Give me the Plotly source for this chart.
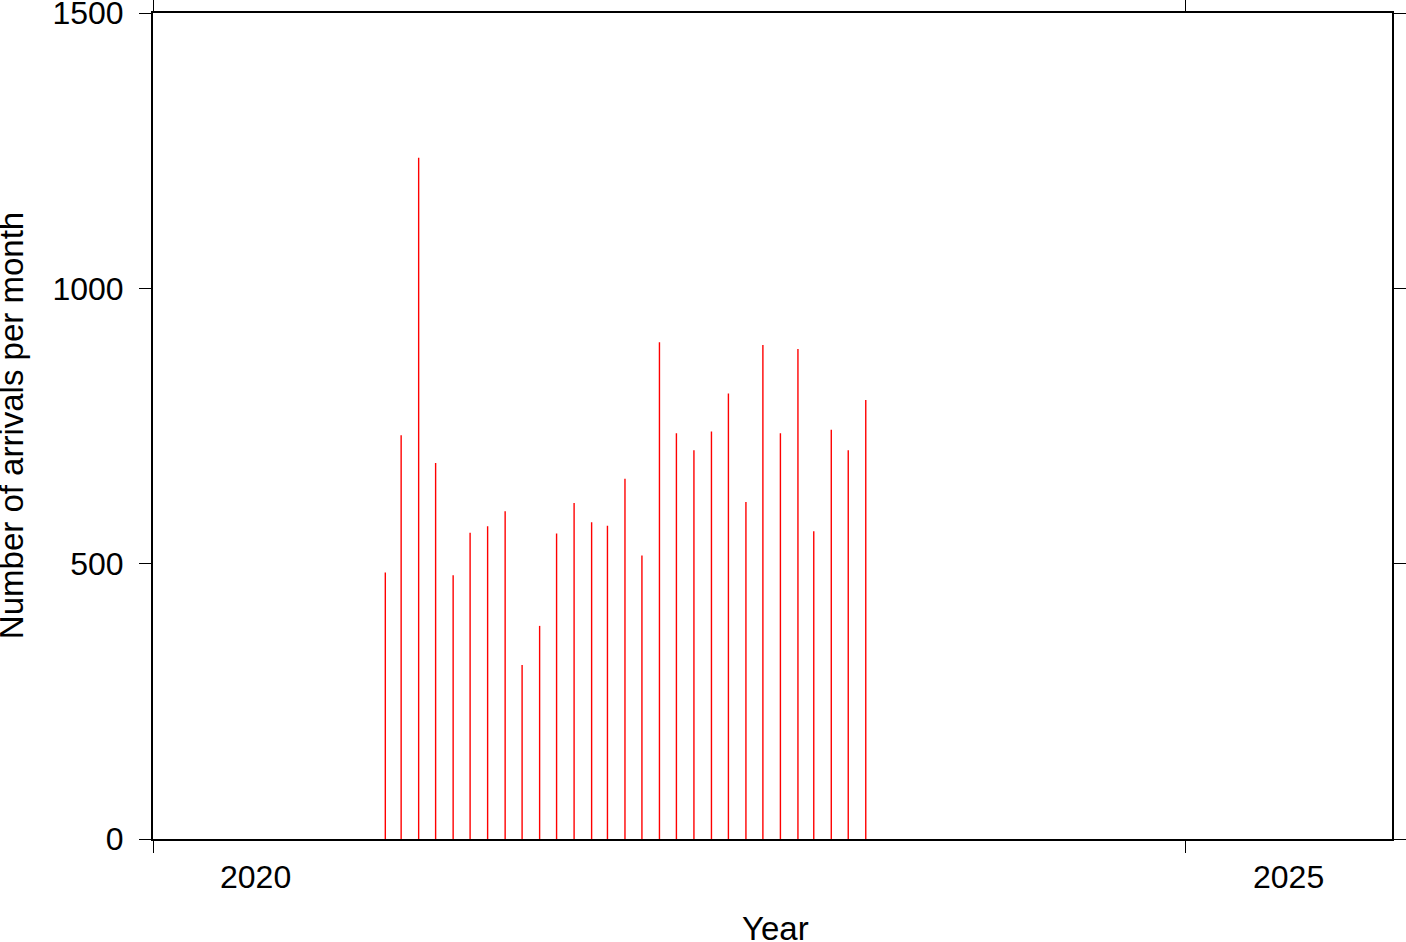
import plotly.graph_objects as go

# Monthly arrivals (mid-month dates)
months = [
    "2021-02-15", "2021-03-15", "2021-04-15", "2021-05-15", "2021-06-15", "2021-07-15",
    "2021-08-15", "2021-09-15", "2021-10-15", "2021-11-15", "2021-12-15", "2022-01-15",
    "2022-02-15", "2022-03-15", "2022-04-15", "2022-05-15", "2022-06-15", "2022-07-15",
    "2022-08-15", "2022-09-15", "2022-10-15", "2022-11-15", "2022-12-15", "2023-01-15",
    "2023-02-15", "2023-03-15", "2023-04-15", "2023-05-15", "2023-06-15",
]
arrivals = [
    484, 733, 1237, 683, 479, 556, 568, 595, 316, 387, 555, 610,
    575, 569, 654, 515, 902, 737, 706, 740, 809, 612, 897, 737,
    890, 559, 743, 706, 797,
]
x_tick_dates = ["2020-01-01", "2025-01-01"]
x_label_dates = ["2020-07-01", "2025-07-01"]
x_labels = ["2020", "2025"]
y_ticks = [0, 500, 1000, 1500]

FONT = "Liberation Sans, Arial, Helvetica, sans-serif"

xs, ys = [], []
for d, v in zip(months, arrivals):
    xs += [d, d, None]
    ys += [0, v, None]

fig = go.Figure()
fig.add_trace(go.Scatter(x=xs, y=ys, mode="lines",
                         line=dict(color="#ff0000", width=1.4),
                         showlegend=False, hoverinfo="skip"))

fig.update_layout(
    width=1406, height=942,
    margin=dict(l=153, r=14, t=13, b=103, autoexpand=False),
    paper_bgcolor="white", plot_bgcolor="white",
    font=dict(family=FONT, size=32, color="black"),
    showlegend=False,
)
fig.update_xaxes(
    type="date", range=["2020-01-01", "2026-01-01"],
    tickvals=x_tick_dates, showticklabels=False,
    ticks="outside", ticklen=12, tickwidth=1, tickcolor="black",
    showline=True, linewidth=2, linecolor="black", mirror="ticks",
    showgrid=False, zeroline=False, automargin=False,
)
fig.update_yaxes(
    range=[0, 1500], tickvals=y_ticks,
    ticks="outside", ticklen=12, tickwidth=1, tickcolor="black",
    showline=True, linewidth=2, linecolor="black", mirror="ticks",
    showgrid=False, zeroline=False, automargin=False,
    tickfont=dict(family=FONT, size=32, color="black"),
    ticklabelstandoff=9, ticklabeloverflow="allow",
)

for d, t in zip(x_label_dates, x_labels):
    fig.add_annotation(x=d, y=-0.046, xref="x", yref="paper", text=t,
                       showarrow=False, xanchor="center", yanchor="middle",
                       font=dict(family=FONT, size=32, color="black"))

fig.add_annotation(x=0.5028, y=-0.108, xref="paper", yref="paper", text="Year",
                   showarrow=False, xanchor="center", yanchor="middle",
                   font=dict(family=FONT, size=33, color="black"))
fig.add_annotation(x=-0.1145, y=0.5, xref="paper", yref="paper",
                   text="Number of arrivals per month", textangle=-90,
                   showarrow=False, xanchor="center", yanchor="middle",
                   font=dict(family=FONT, size=33, color="black"))

fig.write_html("out.html",
               config={"displayModeBar": False},
               post_script="document.body.style.margin='0';document.body.style.overflow='hidden';")
